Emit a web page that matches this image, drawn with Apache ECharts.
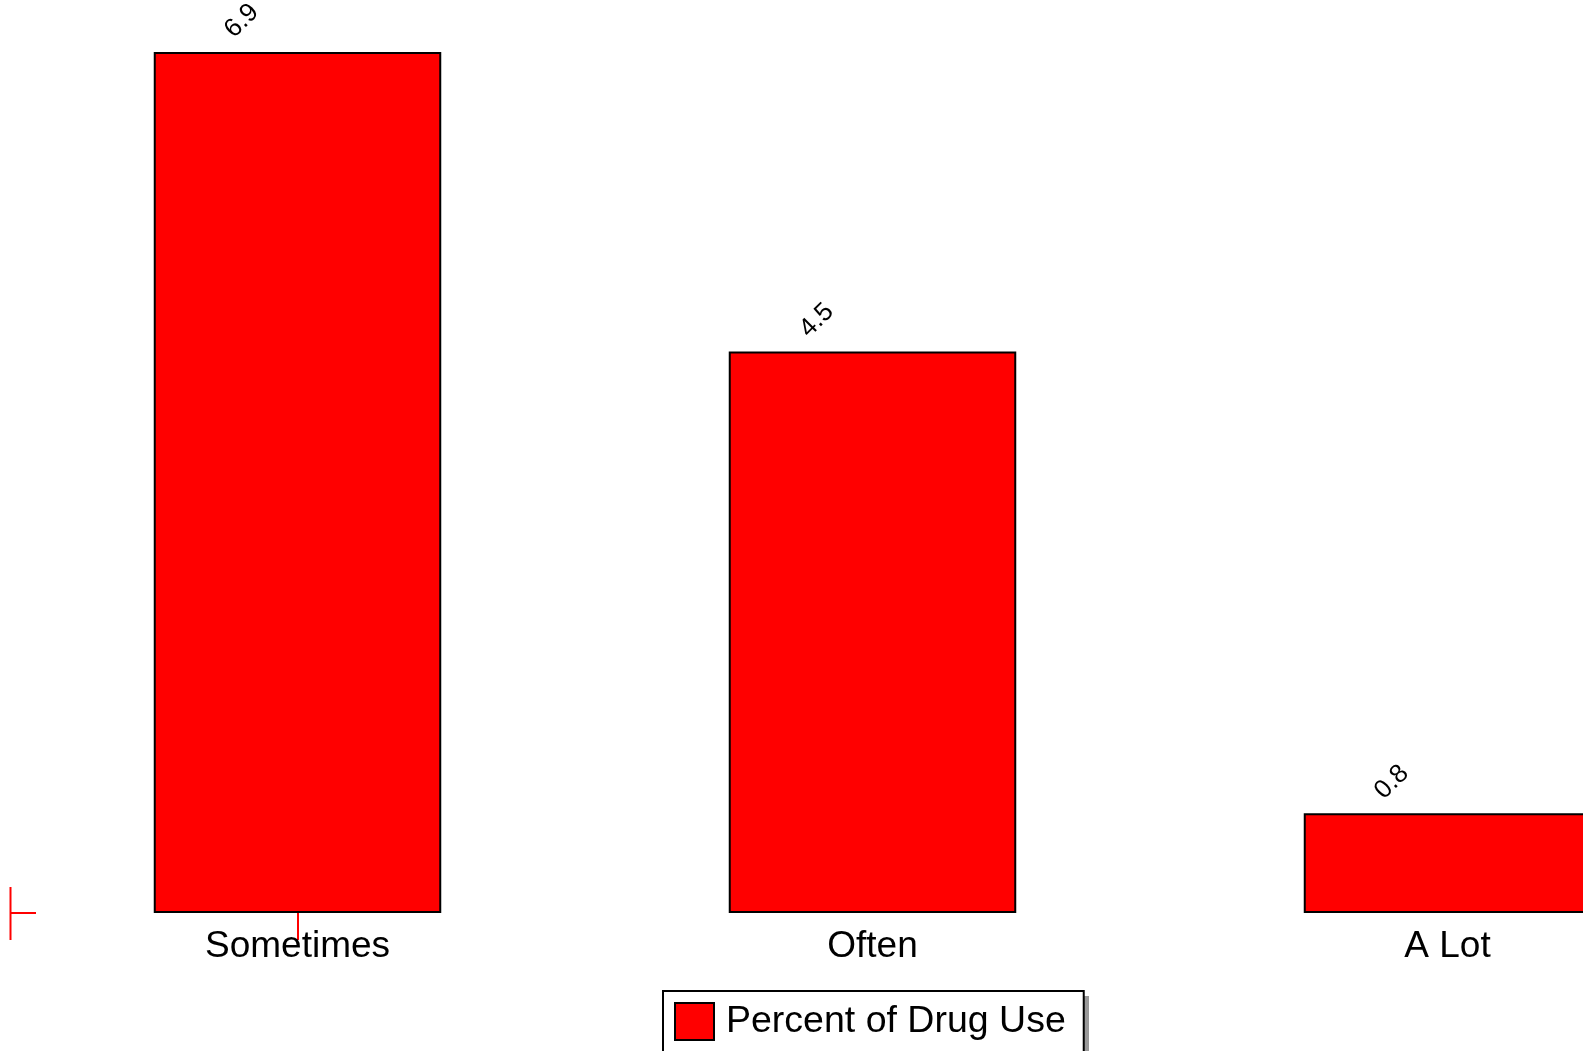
<!DOCTYPE html>
<html>
<head>
<meta charset="utf-8">
<script src="https://cdn.jsdelivr.net/npm/echarts@6/dist/echarts.min.js"></script>
<style>
html,body{margin:0;padding:0;background:#fff;}
#chart{width:1583px;height:1051px;}
</style>
</head>
<body>
<div id="chart"></div>
<script>
const categories = ['Sometimes', 'Often', 'A Lot'];
const seriesName = 'Percent of Drug Use';
const values = [6.9, 4.5, 0.8];

const FONT = 'Liberation Sans, Arial, sans-serif';
const chart = echarts.init(document.getElementById('chart'), null, {renderer: 'canvas'});
chart.setOption({
  animation: false,
  backgroundColor: '#fff',
  grid: {left: 10, top: 52, width: 1725, bottom: 138, containLabel: false, outerBoundsMode: 'none'},
  xAxis: {
    type: 'category',
    data: categories,
    axisLine: {show: false},
    axisTick: {
      show: true, alignWithLabel: true, length: 27,
      interval: function (i) { return i === 0; },
      lineStyle: {color: '#ff0000', width: 2}
    },
    axisLabel: {fontSize: 37, color: '#000', fontFamily: FONT, margin: 15, interval: 0}
  },
  yAxis: {
    type: 'value', min: 0, max: 6.9, show: false,
    splitLine: {show: false}
  },
  legend: {
    left: 663, top: 991,
    padding: [11, 18, 11, 11],
    itemWidth: 39, itemHeight: 37,
    icon: 'rect',
    itemStyle: {color: '#ff0000', borderColor: '#000', borderWidth: 2},
    textStyle: {fontSize: 37.5, color: '#000', fontFamily: FONT, padding: [0, 0, 0, 7]},
    borderColor: '#000', borderWidth: 2,
    backgroundColor: '#fff',
    data: [seriesName]
  },
  series: [{
    name: seriesName,
    type: 'bar',
    data: values,
    barWidth: '50%',
    itemStyle: {color: '#ff0000', borderColor: '#000', borderWidth: 2},
    label: {
      show: true,
      position: [88, -31],
      rotate: 45,
      align: 'center',
      verticalAlign: 'middle',
      fontSize: 26,
      color: '#000',
      fontFamily: FONT
    }
  }],
  graphic: [
    {type: 'rect', z: 1, shape: {x: 1084, y: 996, width: 5, height: 60}, style: {fill: '#999'}},
    {type: 'line', shape: {x1: 10.5, y1: 887, x2: 10.5, y2: 940}, style: {stroke: '#ff0000', lineWidth: 2}},
    {type: 'line', shape: {x1: 10.5, y1: 913, x2: 36, y2: 913}, style: {stroke: '#ff0000', lineWidth: 2}}
  ]
});
</script>
</body>
</html>
